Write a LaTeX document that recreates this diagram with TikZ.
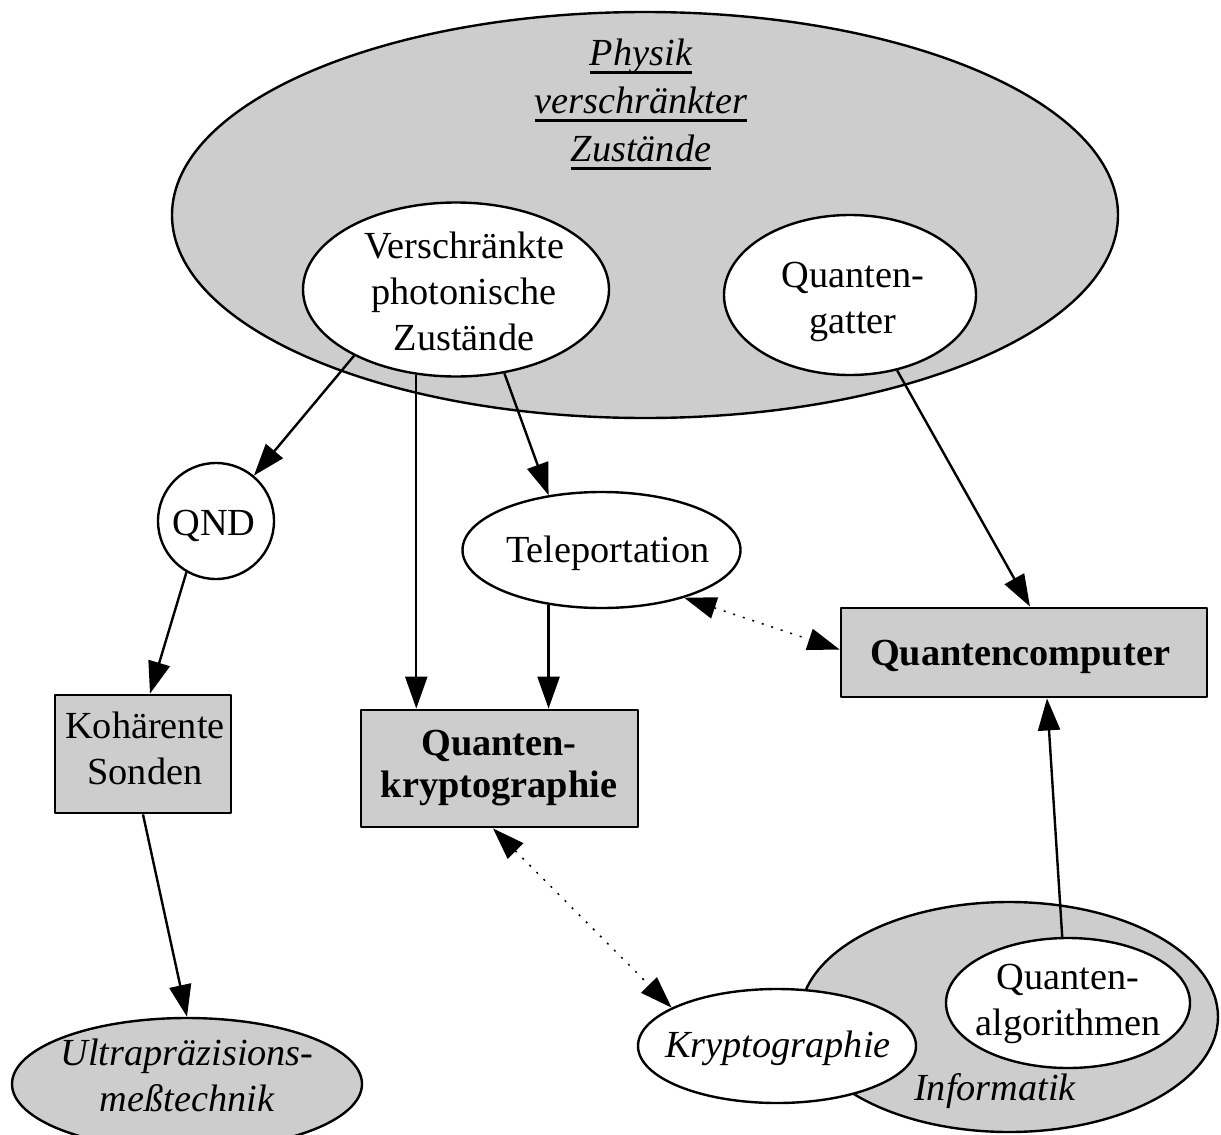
\documentclass[tikz,border=0pt]{standalone}
\usepackage{fontspec}
\setmainfont{Liberation Serif}
\usetikzlibrary{arrows.meta,shapes.geometric}
\definecolor{areagray}{HTML}{CDCDCD}
% underline at a fixed depth below the baseline
\newcommand\ulword[1]{\setbox0=\hbox{#1}\rlap{\rule[-8.5pt]{\wd0}{2.2pt}}\box0}

\begin{document}
\begin{tikzpicture}[x=1pt, y=-1pt, line join=round,
  area/.style={ellipse, draw, line width=2.4pt, fill=areagray, inner sep=0pt},
  topic/.style={ellipse, draw, line width=2.4pt, fill=white, inner sep=0pt},
  roundtopic/.style={circle, draw, line width=2.4pt, fill=white, inner sep=0pt},
  goal/.style={rectangle, draw, line width=2.8pt, fill=areagray, inner sep=0pt},
  txt/.style={align=center, inner sep=0pt, font=\fontsize{38.3}{46}\selectfont},
  flow/.style={line width=2.4pt, -{Triangle[length=32pt,width=22pt]}},
  link/.style={line width=1.5pt, dash pattern=on 2pt off 8pt,
    {Triangle[length=32pt,width=22pt]}-{Triangle[length=32pt,width=22pt]}}]

\useasboundingbox (0,0) rectangle (1221,1135);

% physics of entangled states
\node[area, minimum width=946pt, minimum height=406pt] (phys) at (645,215) {};
\node[txt, font=\fontsize{38.3}{48}\selectfont\itshape] (phys-t) at (641,103.4)
  {\strut\ulword{Physik}\\\ulword{verschränkter}\\\ulword{Zustände}\strut};

\node[topic, minimum width=306pt, minimum height=174pt] (vps) at (456,289.5) {};
\node[txt] (vps-t) at (464,294.8) {\strut Verschränkte\\photonische\\Zustände\strut};

\node[topic, minimum width=252pt, minimum height=160pt] (qg) at (850,295) {};
\node[txt] (qg-t) at (853,300.8) {\strut Quanten-\\gatter\strut};

% computer science
\node[area, minimum width=418pt, minimum height=230pt] (inf) at (1009,1017) {};
\node[topic, minimum width=278pt, minimum height=114pt] (kry) at (777,1046) {};
\node[topic, minimum width=244pt, minimum height=130pt] (qa) at (1068,1003) {};
\node[txt, font=\fontsize{38.3}{46}\selectfont\itshape] (inf-t) at (995,1090.8) {\strut Informatik};
\node[txt, font=\fontsize{38.3}{46}\selectfont\itshape] (kry-t) at (778,1047.8) {\strut Kryptographie};
\node[txt] (qa-t) at (1068,1003) {\strut Quanten-\\algorithmen\strut};

% remaining topics
\node[roundtopic, minimum size=116pt] (qnd) at (216,521) {};
\node[txt] (qnd-t) at (214,525.8) {\strut QND};

\node[topic, minimum width=278pt, minimum height=116pt] (tele) at (601.5,550) {};
\node[txt] (tele-t) at (608,552.8) {\strut Teleportation};

\node[goal, minimum width=366pt, minimum height=89pt] (qc) at (1024,652.5) {};
\node[txt, font=\fontsize{38.3}{46}\selectfont\bfseries] (qc-t) at (1020,655.8) {\strut Quantencomputer};

\node[goal, minimum width=176pt, minimum height=118pt] (koh) at (143,754) {};
\node[txt] (koh-t) at (145,751.8) {\strut Kohärente\\Sonden\strut};

\node[goal, minimum width=277pt, minimum height=117pt] (qk) at (499.5,768.5) {};
\node[txt, font=\fontsize{38.3}{42}\selectfont\bfseries] (qk-t) at (499,767.6) {\strut Quanten-\\kryptographie\strut};

\node[area, minimum width=350pt, minimum height=132pt] (ultra) at (187,1084) {};
\node[txt, font=\fontsize{38.3}{46}\selectfont\itshape] (ultra-t) at (187,1078.8) {\strut Ultrapräzisions-\\meßtechnik\strut};

% connectors
\draw[flow] (vps.213) -- (qnd);
\draw[flow] (vps.245.7) -- (vps.245.7 |- qk.north);
\draw[flow] (vps.300.5) -- (tele.134);
\draw[flow] (qg.302.5) -- ([xshift=6pt]qc.north);
\draw[flow] (qnd.240.7) -- ([xshift=7pt]koh.north);
\draw[flow] (tele.226) -- (tele.226 |- qk.north);
\draw[link] (tele.330) -- ([yshift=3pt]qc.west);
\draw[flow] (koh.south) -- (ultra.north);
\draw[flow] (qa.95) -- ([xshift=23pt]qc.south);
\draw[link] ([xshift=-6.5pt]qk.south) -- (kry.160);
\end{tikzpicture}
\end{document}
